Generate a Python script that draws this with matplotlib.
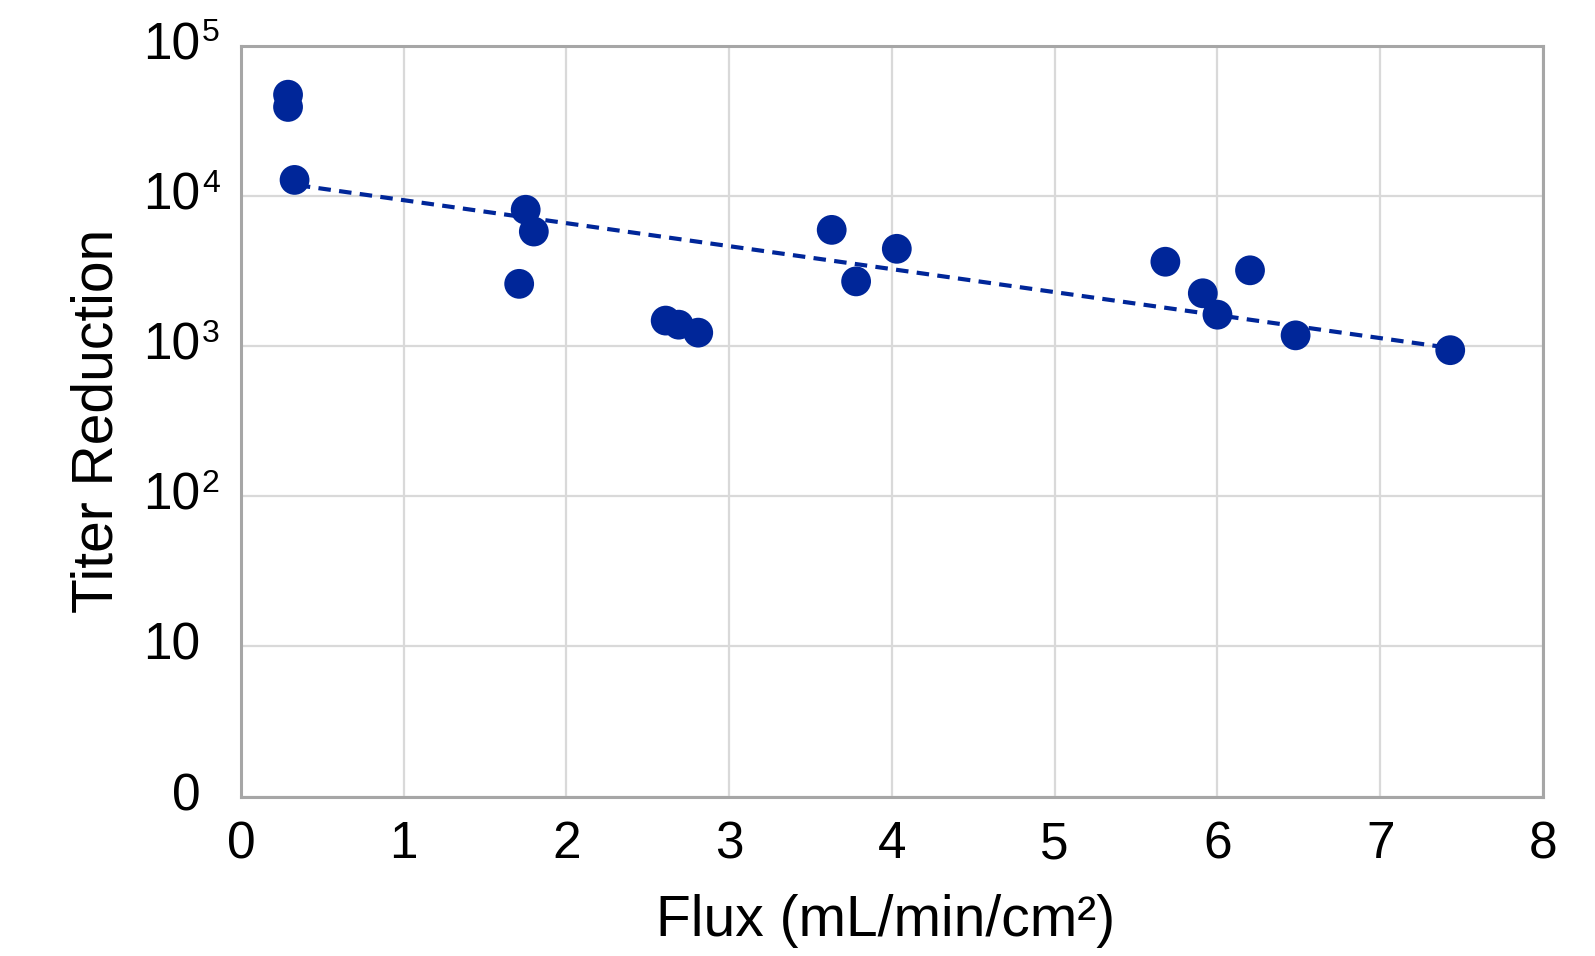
import numpy as np
import matplotlib
matplotlib.use('Agg')
import matplotlib.pyplot as plt
from matplotlib import rcParams
from matplotlib.transforms import blended_transform_factory, ScaledTranslation

rcParams.update({'font.family': ['Liberation Sans', 'DejaVu Sans']})

#-data
flux = [0.29, 0.29, 0.33, 1.75, 1.80, 1.71, 2.61, 2.69, 2.81,
        3.63, 3.78, 4.03, 5.68, 5.91, 6.00, 6.20, 6.48, 7.43]
titer = [47300, 39200, 12800, 8100, 5800, 2600, 1480, 1390, 1230,
         5950, 2700, 4450, 3650, 2250, 1620, 3200, 1180, 940]

#-exponential trend line end points
trend_x = [0.35, 7.35]
trend_y = [11800, 1000]

ytick_vals = [1, 10, 100, 1000, 10000, 100000]
ytick_base = ['0', '10', '10', '10', '10', '10']
ytick_sup = ['', '', '2', '3', '4', '5']
xticks = [0, 1, 2, 3, 4, 5, 6, 7, 8]

blue = '#002699'
grey_spine = '#a6a6a6'
grey_grid = '#d9d9d9'

fig = plt.figure(figsize=(15.95, 9.56), dpi=100)
ax = fig.add_axes([0.151, 0.1668, 0.8164, 0.7852])

ax.plot(trend_x, trend_y, color=blue, lw=3, dashes=(3, 2), zorder=3)
ax.scatter(flux, titer, s=460, color=blue, edgecolors='none', zorder=4)

ax.set_yscale('log')
ax.set_xlim(0, 8)
ax.set_ylim(1, 1e5)
ax.set_xticks(xticks)
ax.set_xticklabels([str(v) for v in xticks], fontsize=37)
ax.set_yticks(ytick_vals)
ax.set_yticklabels([''] * len(ytick_vals))
ax.minorticks_off()
ax.tick_params(axis='both', length=0)
ax.tick_params(axis='x', pad=17)

#-y tick labels with superscripts, base aligned like the plain labels
tr = blended_transform_factory(ax.transAxes, ax.transData)
up = ScaledTranslation(0, 9 / 72., fig.dpi_scale_trans)
for v, b, s in zip(ytick_vals, ytick_base, ytick_sup):
    ax.text(-0.031, v, b, transform=tr, ha='right', va='center', fontsize=37)
    if s:
        ax.text(-0.030, v, s, transform=tr + up, ha='left', va='center', fontsize=23)

ax.grid(True, color=grey_grid, lw=1.6)
ax.set_axisbelow(True)
for sp in ax.spines.values():
    sp.set_color(grey_spine)
    sp.set_linewidth(2.2)

ax.set_xlabel('Flux (mL/min/cm²)', fontsize=41, labelpad=18)
ax.set_ylabel('Titer Reduction', fontsize=41, labelpad=80)
ax.xaxis.label.set_x(0.495)

fig.savefig('out.png', dpi=100)
